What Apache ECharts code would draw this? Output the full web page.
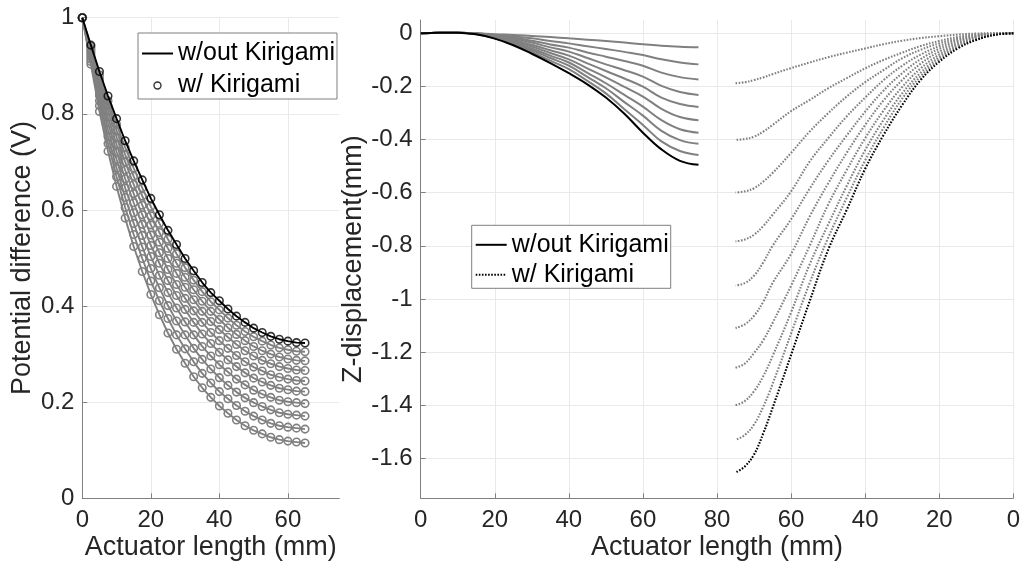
<!DOCTYPE html>
<html>
<head>
<meta charset="utf-8">
<script src="https://cdn.jsdelivr.net/npm/echarts@6/dist/echarts.min.js"></script>
<style>
html,body{margin:0;padding:0;background:#fff;}
#chart{width:1023px;height:567px;}
</style>
</head>
<body>
<div id="chart"></div>
<script>
// ---------- Left panel: potential difference ----------
const leftX = [0,2.5,5,7.5,10,12.5,15,17.5,20,22.5,25,27.5,30,32.5,35,37.5,40,42.5,45,47.5,50,52.5,55,57.5,60,62.5,65];
const leftBlack = [1,0.943,0.888,0.837,0.790,0.744,0.702,0.6625,0.624,0.590,0.5575,0.528,0.499,0.4735,0.449,0.428,0.411,0.394,0.379,0.366,0.354,0.345,0.337,0.331,0.327,0.324,0.323];
const leftG1 = [1,0.940,0.881,0.827,0.778,0.730,0.687,0.646,0.607,0.572,0.539,0.509,0.480,0.454,0.430,0.409,0.392,0.375,0.360,0.347,0.336,0.327,0.319,0.313,0.309,0.306,0.305];
const leftG2 = [1,0.936,0.873,0.817,0.765,0.715,0.670,0.629,0.588,0.553,0.520,0.489,0.460,0.434,0.410,0.389,0.372,0.355,0.341,0.328,0.316,0.307,0.300,0.294,0.290,0.287,0.286];
const leftG3 = [1,0.932,0.865,0.806,0.751,0.700,0.653,0.610,0.569,0.533,0.499,0.468,0.439,0.413,0.389,0.368,0.351,0.335,0.320,0.307,0.296,0.287,0.280,0.274,0.270,0.267,0.266];
const leftG4 = [1,0.928,0.857,0.793,0.736,0.683,0.634,0.590,0.548,0.511,0.476,0.445,0.416,0.390,0.366,0.345,0.328,0.312,0.297,0.284,0.273,0.265,0.257,0.252,0.248,0.245,0.244];
const leftG5 = [1,0.924,0.848,0.781,0.721,0.665,0.615,0.570,0.526,0.489,0.453,0.422,0.393,0.366,0.342,0.322,0.304,0.288,0.274,0.261,0.250,0.242,0.235,0.229,0.226,0.223,0.222];
const leftG6 = [1,0.919,0.838,0.767,0.705,0.646,0.594,0.547,0.503,0.464,0.428,0.396,0.367,0.340,0.316,0.296,0.278,0.263,0.248,0.236,0.225,0.217,0.210,0.204,0.201,0.199,0.197];
const leftG7 = [1,0.914,0.827,0.753,0.687,0.626,0.572,0.523,0.478,0.438,0.401,0.369,0.340,0.312,0.289,0.269,0.251,0.235,0.221,0.209,0.199,0.191,0.184,0.178,0.175,0.173,0.171];
const leftG8 = [1,0.909,0.817,0.738,0.669,0.605,0.549,0.499,0.452,0.411,0.374,0.340,0.311,0.284,0.260,0.240,0.222,0.207,0.193,0.181,0.171,0.163,0.156,0.151,0.148,0.146,0.144];
const leftG9 = [1,0.903,0.805,0.722,0.649,0.583,0.524,0.472,0.424,0.382,0.344,0.310,0.281,0.253,0.230,0.210,0.192,0.177,0.163,0.151,0.1415,0.134,0.127,0.122,0.119,0.117,0.115];
const leftGrays = [leftG1,leftG2,leftG3,leftG4,leftG5,leftG6,leftG7,leftG8,leftG9];
const leftXTicks = [0,20,40,60];

// ---------- Right panel: Z-displacement ----------
const solidX = [0,5,10,15,20,25,30,35,40,45,50,55,60,65,70,75];
const solidS1 = [0,0.002,0.002,0,-0.004,-0.006,-0.010,-0.014,-0.019,-0.024,-0.029,-0.035,-0.041,-0.047,-0.051,-0.053];
const solidS2 = [0,0.002,0.002,0,-0.006,-0.011,-0.019,-0.029,-0.038,-0.049,-0.059,-0.070,-0.082,-0.098,-0.110,-0.117];
const solidS3 = [0,0.002,0.002,-0.001,-0.009,-0.016,-0.028,-0.042,-0.054,-0.072,-0.088,-0.104,-0.122,-0.148,-0.165,-0.174];
const solidS4 = [0,0.002,0.002,-0.001,-0.010,-0.020,-0.035,-0.053,-0.069,-0.093,-0.117,-0.139,-0.163,-0.198,-0.221,-0.232];
const solidS5 = [0,0.002,0.002,-0.002,-0.013,-0.024,-0.043,-0.064,-0.084,-0.113,-0.142,-0.170,-0.201,-0.242,-0.266,-0.277];
const solidS6 = [0,0.002,0.002,-0.002,-0.014,-0.028,-0.050,-0.074,-0.098,-0.132,-0.166,-0.202,-0.238,-0.284,-0.315,-0.327];
const solidS7 = [0,0.002,0.002,-0.003,-0.016,-0.033,-0.057,-0.084,-0.110,-0.149,-0.188,-0.232,-0.276,-0.327,-0.361,-0.374];
const solidS8 = [0,0.002,0.002,-0.003,-0.018,-0.037,-0.063,-0.093,-0.122,-0.164,-0.207,-0.259,-0.310,-0.367,-0.402,-0.416];
const solidS9 = [0,0.002,0.002,-0.004,-0.019,-0.040,-0.070,-0.103,-0.135,-0.179,-0.226,-0.286,-0.345,-0.407,-0.443,-0.458];
const solidBlack = [0,0.002,0.002,-0.004,-0.020,-0.045,-0.077,-0.112,-0.150,-0.192,-0.242,-0.303,-0.374,-0.437,-0.480,-0.495];
const solidGrays = [solidS1,solidS2,solidS3,solidS4,solidS5,solidS6,solidS7,solidS8,solidS9];

// dotted (w/ Kirigami) curves, plotted mirrored: axis position = MIRROR_END - length
const dottedL = [0,5,10,15,20,25,30,35,40,45,50,55,60,65,67.5,70,72.5,75];
const dottedD1 = [0,0,-0.001,-0.005,-0.011,-0.018,-0.028,-0.041,-0.057,-0.073,-0.090,-0.110,-0.131,-0.154,-0.166,-0.176,-0.184,-0.188];
const dottedD2 = [0,-0.001,-0.005,-0.014,-0.029,-0.048,-0.073,-0.100,-0.132,-0.169,-0.207,-0.251,-0.293,-0.345,-0.370,-0.389,-0.398,-0.401];
const dottedD3 = [0,-0.002,-0.008,-0.020,-0.038,-0.062,-0.094,-0.138,-0.184,-0.238,-0.301,-0.370,-0.450,-0.526,-0.558,-0.583,-0.595,-0.599];
const dottedD4 = [0,-0.002,-0.010,-0.025,-0.048,-0.080,-0.122,-0.176,-0.242,-0.313,-0.395,-0.483,-0.595,-0.683,-0.725,-0.758,-0.776,-0.783];
const dottedD5 = [0,-0.003,-0.013,-0.031,-0.058,-0.097,-0.150,-0.215,-0.295,-0.385,-0.480,-0.585,-0.700,-0.800,-0.862,-0.912,-0.940,-0.949];
const dottedD6 = [0,-0.004,-0.016,-0.037,-0.069,-0.114,-0.176,-0.252,-0.345,-0.450,-0.565,-0.690,-0.830,-0.940,-1.010,-1.063,-1.095,-1.109];
const dottedD7 = [0,-0.004,-0.018,-0.043,-0.080,-0.132,-0.202,-0.290,-0.395,-0.515,-0.645,-0.800,-0.950,-1.090,-1.155,-1.203,-1.243,-1.259];
const dottedD8 = [0,-0.005,-0.021,-0.048,-0.090,-0.148,-0.226,-0.325,-0.440,-0.575,-0.720,-0.870,-1.050,-1.215,-1.290,-1.347,-1.384,-1.400];
const dottedD9 = [0,-0.005,-0.023,-0.052,-0.098,-0.161,-0.246,-0.355,-0.478,-0.620,-0.770,-0.940,-1.130,-1.320,-1.405,-1.472,-1.512,-1.530];
const dottedBlack = [0,-0.006,-0.025,-0.057,-0.107,-0.175,-0.270,-0.382,-0.510,-0.665,-0.815,-1.009,-1.210,-1.410,-1.505,-1.585,-1.630,-1.653];
const dottedGrays = [dottedD1,dottedD2,dottedD3,dottedD4,dottedD5,dottedD6,dottedD7,dottedD8,dottedD9];
const MIRROR_END = 160;
const rightYTicks = [-1.6,-1.4,-1.2,-1,-0.8,-0.6,-0.4,-0.2,0];

// ---------- styles ----------
const FONT = "'Liberation Sans', Arial, sans-serif";
const TXT = '#262626';
const AX = '#808080';
const GRIDC = '#e9e9e9';
const GRAY = '#808080';
const DOT = [1.6,1.5];

function pairs(xs, ys){ return xs.map((x,i)=>[x, ys[i]]); }
function mirrorPairs(ls, ys){ return ls.map((l,i)=>[MIRROR_END - l, ys[i]]); }

const series = [];
leftGrays.forEach(g => series.push({
  type:'line', xAxisIndex:0, yAxisIndex:0, data:pairs(leftX,g),
  symbol:'circle', symbolSize:7.5, showAllSymbol:true,
  lineStyle:{color:GRAY, width:1.9},
  itemStyle:{color:'rgba(0,0,0,0)', borderColor:GRAY, borderWidth:1.6},
  emphasis:{disabled:true}, silent:true, z:2
}));
series.push({
  name:'w/out Kirigami', type:'line', xAxisIndex:0, yAxisIndex:0, data:pairs(leftX,leftBlack),
  symbol:'none', lineStyle:{color:'#000', width:1.9}, emphasis:{disabled:true}, silent:true, z:5
});
series.push({
  name:'w/ Kirigami', type:'scatter', xAxisIndex:0, yAxisIndex:0, data:pairs(leftX,leftBlack),
  symbol:'circle', symbolSize:7.5,
  itemStyle:{color:'rgba(0,0,0,0)', borderColor:'#000', borderWidth:1.6},
  emphasis:{disabled:true}, silent:true, z:6
});
solidGrays.forEach(s => series.push({
  type:'line', xAxisIndex:1, yAxisIndex:1, data:pairs(solidX,s), smooth:0.4,
  symbol:'none', lineStyle:{color:GRAY, width:2}, emphasis:{disabled:true}, silent:true, z:2
}));
series.push({
  name:'w/out Kirigami ', type:'line', xAxisIndex:1, yAxisIndex:1, data:pairs(solidX,solidBlack), smooth:0.4,
  symbol:'none', lineStyle:{color:'#000', width:2}, emphasis:{disabled:true}, silent:true, z:5
});
dottedGrays.forEach(d => series.push({
  type:'line', xAxisIndex:1, yAxisIndex:1, data:mirrorPairs(dottedL,d), smooth:0.4,
  symbol:'none', lineStyle:{color:GRAY, width:2.1, type:DOT}, emphasis:{disabled:true}, silent:true, z:2
}));
series.push({
  name:'w/ Kirigami ', type:'line', xAxisIndex:1, yAxisIndex:1, data:mirrorPairs(dottedL,dottedBlack), smooth:0.4,
  symbol:'none', lineStyle:{color:'#000', width:2.1, type:DOT}, emphasis:{disabled:true}, silent:true, z:5
});

const axisCommon = {
  axisLine:{show:true, onZero:false, lineStyle:{color:AX, width:1}},
  axisTick:{show:true, inside:true, length:5, lineStyle:{color:AX}},
  axisLabel:{fontSize:24, color:TXT, fontFamily:FONT},
  nameTextStyle:{fontSize:27, color:TXT, fontFamily:FONT},
  nameLocation:'middle',
  nameMoveOverlap:false
};
const HIDDEN_ICON = {color:'rgba(0,0,0,0)', borderColor:'rgba(0,0,0,0)', borderWidth:0};

const option = {
  animation:false,
  backgroundColor:'#fff',
  textStyle:{fontFamily:FONT},
  grid:[
    {left:82.3, top:17.7, width:257, height:480.6},
    {left:420.7, top:20, width:593.6, height:478.3}
  ],
  xAxis:[
    Object.assign({}, axisCommon, {
      type:'value', gridIndex:0, min:0, max:75, interval:20,
      axisTick:Object.assign({}, axisCommon.axisTick, {customValues:leftXTicks}),
      axisLabel:Object.assign({}, axisCommon.axisLabel, {margin:10, customValues:leftXTicks}),
      splitLine:{show:true, lineStyle:{color:[GRIDC,GRIDC,GRIDC,GRIDC,'rgba(0,0,0,0)'], width:1}},
      name:'Actuator length (mm)', nameGap:36
    }),
    Object.assign({}, axisCommon, {
      type:'value', gridIndex:1, min:0, max:160, interval:20,
      axisLabel:Object.assign({}, axisCommon.axisLabel, {margin:10,
        formatter: v => String(v <= MIRROR_END/2 ? v : MIRROR_END - v)}),
      splitLine:{show:true, lineStyle:{color:GRIDC, width:1}},
      name:'Actuator length (mm)', nameGap:36
    })
  ],
  yAxis:[
    Object.assign({}, axisCommon, {
      type:'value', gridIndex:0, min:0, max:1, interval:0.2,
      axisLabel:Object.assign({}, axisCommon.axisLabel, {margin:8}),
      splitLine:{show:true, lineStyle:{color:GRIDC, width:1}},
      name:'Potential difference (V)', nameGap:46
    }),
    Object.assign({}, axisCommon, {
      type:'value', gridIndex:1, min:-1.75, max:0.05, splitNumber:9,
      axisTick:Object.assign({}, axisCommon.axisTick, {customValues:rightYTicks}),
      axisLabel:Object.assign({}, axisCommon.axisLabel, {margin:8, customValues:rightYTicks}),
      splitLine:{show:true, lineStyle:{color:[GRIDC,GRIDC,GRIDC,GRIDC,GRIDC,GRIDC,GRIDC,GRIDC,GRIDC,GRIDC,'rgba(0,0,0,0)'], width:1}},
      name:'Z-displacement(mm)', nameGap:54
    })
  ],
  legend:[
    {
      orient:'vertical', left:138, top:33, padding:[8,2,1,3], itemGap:7,
      itemWidth:31, itemHeight:7, selectedMode:false,
      borderColor:'#7f7f7f', borderWidth:1, backgroundColor:'#fff',
      textStyle:{fontSize:25, color:'#000', fontFamily:FONT},
      data:[
        {name:'w/out Kirigami', itemStyle:HIDDEN_ICON},
        {name:'w/ Kirigami', icon:'circle', itemStyle:{color:'rgba(0,0,0,0)', borderColor:'#000', borderWidth:1.4}}
      ]
    },
    {
      orient:'vertical', left:471.7, top:225.3, padding:[7,2,1,3], itemGap:5,
      itemWidth:31, itemHeight:7, selectedMode:false,
      borderColor:'#7f7f7f', borderWidth:1, backgroundColor:'#fff',
      textStyle:{fontSize:25, color:'#000', fontFamily:FONT},
      formatter: n => n.trim(),
      data:[{name:'w/out Kirigami ', itemStyle:HIDDEN_ICON},{name:'w/ Kirigami ', itemStyle:HIDDEN_ICON}]
    }
  ],
  series: series
};

const chart = echarts.init(document.getElementById('chart'), null, {renderer:'canvas'});
chart.setOption(option);
</script>
</body>
</html>
